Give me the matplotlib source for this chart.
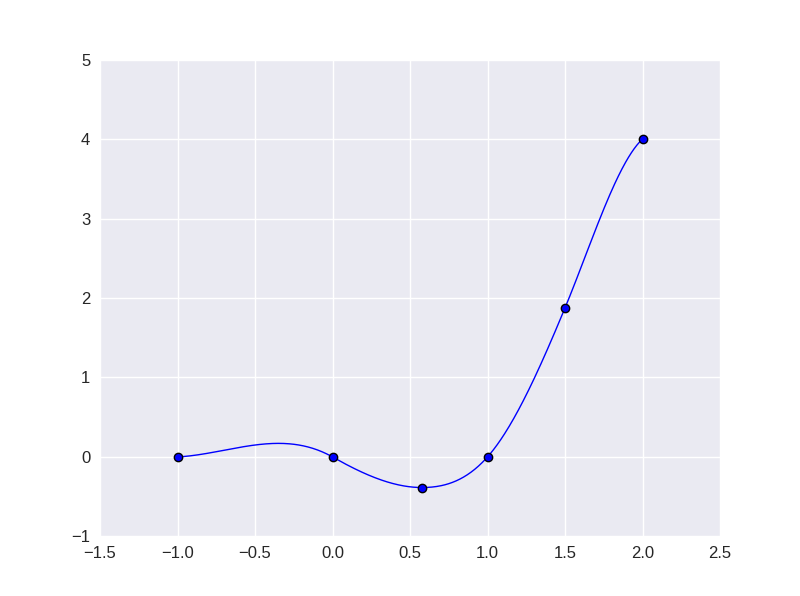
import numpy as np
import matplotlib
matplotlib.use("Agg")
import matplotlib.pyplot as plt

# data points
xPoints = [-1.0, 0.0, 0.577, 1.0, 1.5, 2.0]
yPoints = [0.0, 0.0, -0.385, 0.0, 1.875, 4.0]
# slope of the curve at each point
slopes = [0.1, -1.1, 0.0, 2.2, 4.7, 1.8]

xTicks = [-1.5, -1.0, -0.5, 0.0, 0.5, 1.0, 1.5, 2.0, 2.5]
yTicks = [-1, 0, 1, 2, 3, 4, 5]


def hermite(x, y, d, xs):
    # piecewise cubic hermite curve through the points with the given slopes
    x = np.asarray(x, float)
    y = np.asarray(y, float)
    d = np.asarray(d, float)
    idx = np.clip(np.searchsorted(x, xs) - 1, 0, len(x) - 2)
    h = x[idx + 1] - x[idx]
    t = (xs - x[idx]) / h
    h00 = 2 * t**3 - 3 * t**2 + 1
    h10 = t**3 - 2 * t**2 + t
    h01 = -2 * t**3 + 3 * t**2
    h11 = t**3 - t**2
    return h00 * y[idx] + h10 * h * d[idx] + h01 * y[idx + 1] + h11 * h * d[idx + 1]


plt.rcParams['font.family'] = ['Liberation Sans', 'DejaVu Sans']

fig = plt.figure(figsize=(8, 5.96), dpi=100)
fig.subplots_adjust(left=0.125, right=0.9, top=0.9, bottom=0.1)
ax = fig.add_subplot(1, 1, 1)
ax.set_facecolor("#EAEAF2")
ax.grid(True, color="white", linewidth=1)
ax.set_axisbelow(True)
for s in ax.spines.values():
    s.set_visible(False)

xs = np.linspace(xPoints[0], xPoints[-1], 500)
ax.plot(xs, hermite(xPoints, yPoints, slopes, xs), "b-", linewidth=1)
ax.plot(xPoints, yPoints, "o", color="blue", markeredgecolor="black",
        markeredgewidth=1, markersize=6)

ax.set_xlim(-1.5, 2.5)
ax.set_ylim(-1, 5)
ax.set_xticks(xTicks)
ax.set_yticks(yTicks)
ax.tick_params(length=0, labelsize=12, colors="#262626", pad=7)

fig.savefig("out.png", dpi=100)
